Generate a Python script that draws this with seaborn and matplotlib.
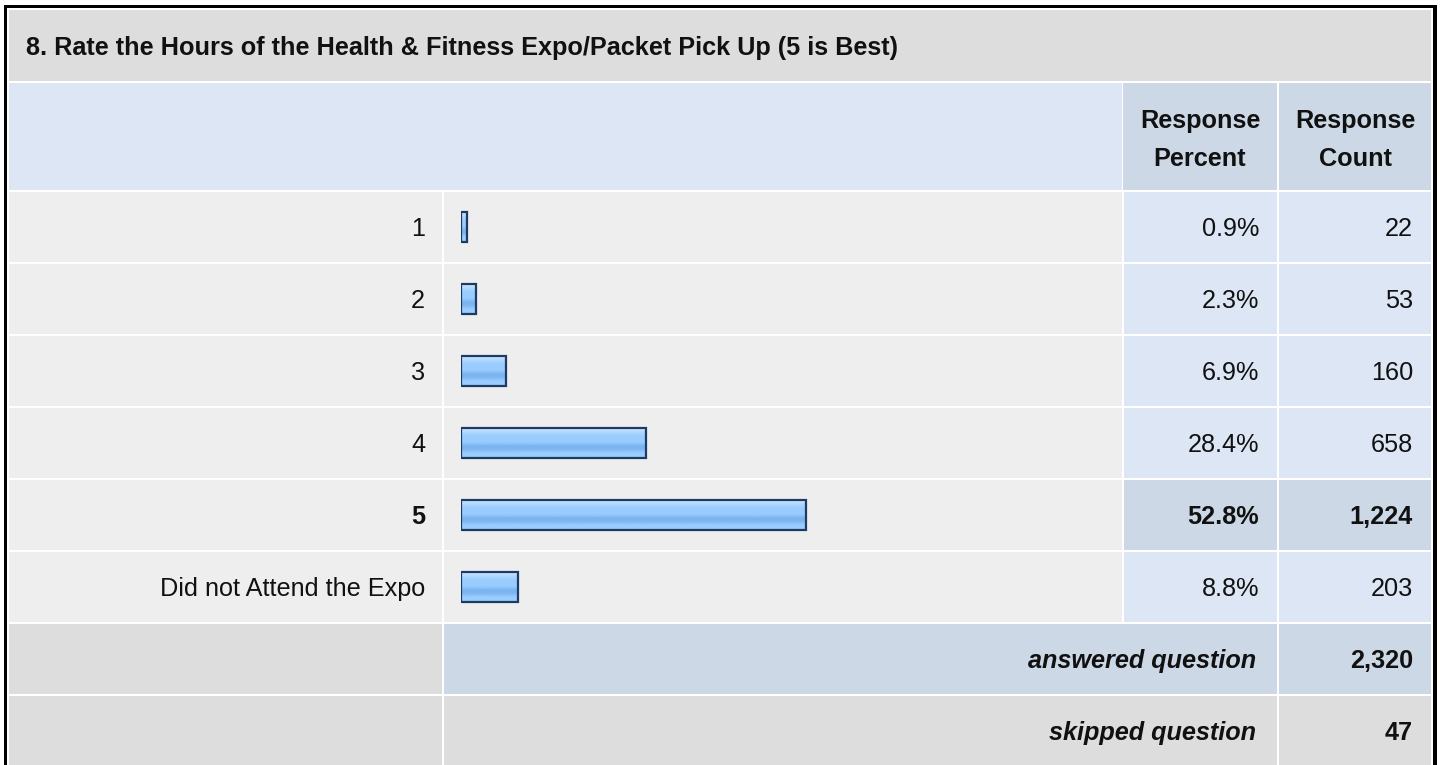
import numpy as np
import pandas as pd
import matplotlib
matplotlib.use("Agg")
import matplotlib.pyplot as plt
from matplotlib.patches import Rectangle
from matplotlib.colors import to_rgb
import seaborn as sns

# ---------------- data ----------------
title = "8. Rate the Hours of the Health & Fitness Expo/Packet Pick Up (5 is Best)"
answer_labels = ["1", "2", "3", "4", "5", "Did not Attend the Expo"]
response_percent = [0.9, 2.3, 6.9, 28.4, 52.8, 8.8]
response_count = [22, 53, 160, 658, 1224, 203]
highlight_label = "5"
answered_label = "answered question"
skipped_label = "skipped question"
answered_count = 2320
skipped_count = 47
col_headers = [["Response", "Percent"], ["Response", "Count"]]

# ---------------- style ----------------
sns.set_style("white")
plt.rcParams["font.family"] = ["Liberation Sans", "DejaVu Sans"]

GRAY_DARK = "#DDDDDD"
GRAY_LIGHT = "#EEEEEE"
BLUE_LIGHT = "#DCE6F4"
BLUE_MID = "#CCD8E6"
TXT = "#111111"
FS = 18.2

W, H = 1440, 765
fig = plt.figure(figsize=(W / 100, H / 100), dpi=100)
fig.patch.set_facecolor("white")
bg = fig.add_axes([0, 0, 1, 1])
bg.set_xlim(0, W)
bg.set_ylim(H, 0)
bg.axis("off")


def cell(x0, x1, y0, y1, color):
    bg.add_patch(Rectangle((x0, y0), x1 - x0, y1 - y0, facecolor=color,
                           edgecolor="none", lw=0))


# outer border
cell(4, 1437, 5, 800, "black")
cell(7, 1433, 8, 800, "white")

COL_LABEL = (9, 442)
COL_BAR = (444, 1122)
COL_PCT = (1124, 1277)
COL_CNT = (1279, 1431)
ROW0 = 192
PITCH = 72
ROWH = 70

# title row
cell(9, 1431, 10, 81, GRAY_DARK)
bg.text(26, 55, title, fontsize=FS, fontweight="bold", color=TXT,
        ha="left", va="baseline")

# header row
cell(9, 1122, 83, 190, BLUE_LIGHT)
for (x0, x1), lines in zip([(1123, 1277), COL_CNT], col_headers):
    cell(x0, x1, 83, 190, BLUE_MID)
    cx = (x0 + x1) / 2
    bg.text(cx, 128, lines[0], fontsize=FS, fontweight="bold", color=TXT,
            ha="center", va="baseline")
    bg.text(cx, 166, lines[1], fontsize=FS, fontweight="bold", color=TXT,
            ha="center", va="baseline")

# answer rows
for i, (lab, p, c) in enumerate(zip(answer_labels, response_percent, response_count)):
    y0 = ROW0 + PITCH * i
    y1 = y0 + ROWH
    hl = lab == highlight_label
    cell(*COL_LABEL, y0, y1, GRAY_LIGHT)
    cell(*COL_BAR, y0, y1, GRAY_LIGHT)
    cell(*COL_PCT, y0, y1, BLUE_MID if hl else BLUE_LIGHT)
    cell(*COL_CNT, y0, y1, BLUE_MID if hl else BLUE_LIGHT)
    base = (y0 + y1) / 2 + 9
    fw = "bold" if hl else "normal"
    bg.text(425, base, lab, fontsize=FS, fontweight=fw, color=TXT, ha="right", va="baseline")
    bg.text(1259, base, f"{p:.1f}%", fontsize=FS, fontweight=fw, color=TXT, ha="right", va="baseline")
    bg.text(1413, base, f"{c:,}", fontsize=FS, fontweight=fw, color=TXT, ha="right", va="baseline")

# footer rows
n = len(answer_labels)
for k, (lab, val, col) in enumerate([(answered_label, answered_count, BLUE_MID),
                                      (skipped_label, skipped_count, GRAY_DARK)]):
    y0 = ROW0 + PITCH * (n + k)
    y1 = y0 + ROWH
    cell(*COL_LABEL, y0, y1, GRAY_DARK)
    cell(COL_BAR[0], COL_PCT[1], y0, y1, col)
    cell(*COL_CNT, y0, y1, col)
    base = (y0 + y1) / 2 + 9
    bg.text(1256, base, lab, fontsize=FS, fontweight="bold", fontstyle="italic",
            color=TXT, ha="right", va="baseline")
    bg.text(1413, base, f"{val:,}", fontsize=FS, fontweight="bold", color=TXT,
            ha="right", va="baseline")

# ---------------- bars (seaborn) ----------------
df = pd.DataFrame({"answer": answer_labels, "percent": response_percent})
bx0, bx1 = 461, 1121
by0, by1 = 191, 623
ax = fig.add_axes([bx0 / W, 1 - by1 / H, (bx1 - bx0) / W, (by1 - by0) / H])
sns.barplot(data=df, x="percent", y="answer", orient="h", width=0.404,
            color="#99CCFF", saturation=1, edgecolor="#1D3A63", linewidth=1.6,
            ax=ax)
px_per_pct = 6.53
xmax = (bx1 - bx0) / px_per_pct
ax.set_xlim(0, xmax)
ax.set_ylim(n - 0.5, -0.5)
ax.axis("off")

grad_hex = ["#C8E4FF", "#C2E0FF", "#B6DBFF", "#ACD6FF", "#A3D1FF", "#9DCEFF",
            "#99CCFF", "#99CCFF", "#99CCFF", "#99CCFF", "#96C9FD", "#90C4FA",
            "#82B9F2", "#7BB4EF", "#7BB4EF", "#7DB6F0", "#86BDF5", "#93C7FC",
            "#99CCFF", "#99CCFF", "#9ACDFF", "#9ECFFF"]
grad = np.array([to_rgb(h) for h in grad_hex])[:, None, :]

for patch in list(ax.patches):
    x0, y0, x1, y1 = patch.get_bbox().extents
    patch.set_facecolor("none")
    patch.set_zorder(3)
    im = ax.imshow(grad, extent=(x0, x1, max(y0, y1), min(y0, y1)), origin="upper",
                   aspect="auto", interpolation="bilinear", zorder=2)
    im.set_clip_path(patch)

ax.set_xlim(0, xmax)
ax.set_ylim(n - 0.5, -0.5)

fig.savefig("out.png", dpi=100, facecolor="white")
